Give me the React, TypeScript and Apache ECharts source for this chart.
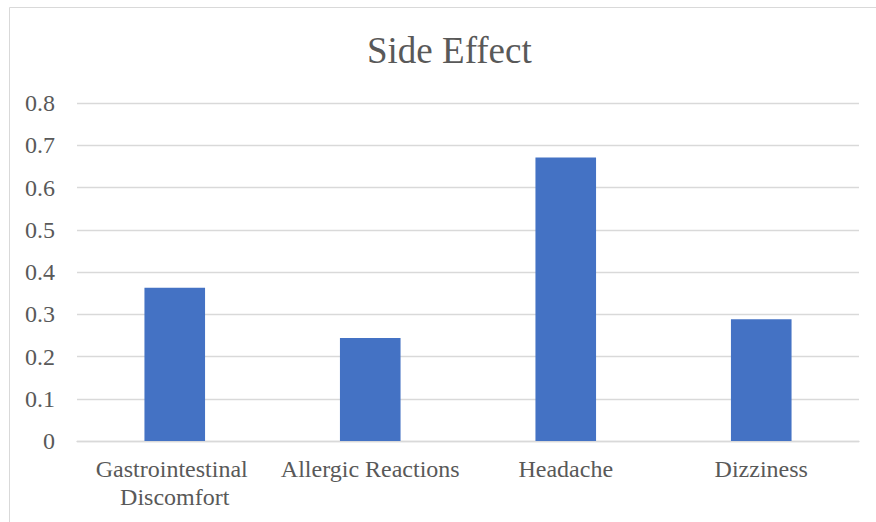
import React, { useEffect, useRef } from "react";
import * as echarts from "echarts";

const categories = [
  "Gastrointestinal Discomfort",
  "Allergic Reactions",
  "Headache",
  "Dizziness",
];
const values = [0.363, 0.244, 0.671, 0.288];
const yTicks = { min: 0, max: 0.8, interval: 0.1 };

const FONT = "'Liberation Serif', 'Times New Roman', serif";

export default function App() {
  const ref = useRef<HTMLDivElement>(null);
  useEffect(() => {
    if (!ref.current) return;
    const chart = echarts.init(ref.current, undefined, { renderer: "svg" });
    chart.setOption({
      animation: false,
      backgroundColor: "#ffffff",
      title: {
        text: "Side Effect",
        left: 362,
        top: 27,
        textStyle: {
          fontFamily: FONT,
          fontSize: 37,
          fontWeight: "normal",
          color: "#595959",
        },
      },
      graphic: [
        {
          type: "rect",
          shape: { x: 9.5, y: 7.5, width: 900, height: 600 },
          style: { fill: "none", stroke: "#d9d9d9", lineWidth: 1 },
          silent: true,
        },
      ],
      grid: { left: 77, right: 17, top: 103, bottom: 81 },
      xAxis: {
        type: "category",
        data: categories,
        axisLine: { lineStyle: { color: "#d9d9d9", width: 1.3 } },
        axisTick: { show: false },
        axisLabel: {
          color: "#595959",
          fontFamily: FONT,
          fontSize: 24,
          lineHeight: 28,
          margin: 14,
          width: 190,
          overflow: "break",
          interval: 0,
        },
      },
      yAxis: {
        type: "value",
        min: yTicks.min,
        max: yTicks.max,
        interval: yTicks.interval,
        axisLine: { show: false },
        axisTick: { show: false },
        splitLine: { lineStyle: { color: "#d9d9d9", width: 1.3 } },
        axisLabel: {
          color: "#595959",
          fontFamily: FONT,
          fontSize: 24,
          margin: 22,
          formatter: (v: number) => String(Math.round(v * 10) / 10),
        },
      },
      series: [
        {
          type: "bar",
          data: values,
          barWidth: "31%",
          itemStyle: { color: "#4472c4" },
        },
      ],
    });
    return () => chart.dispose();
  }, []);
  return (
    <div
      ref={ref}
      style={{ position: "absolute", left: 0, top: 0, width: 876, height: 522 }}
    />
  );
}
